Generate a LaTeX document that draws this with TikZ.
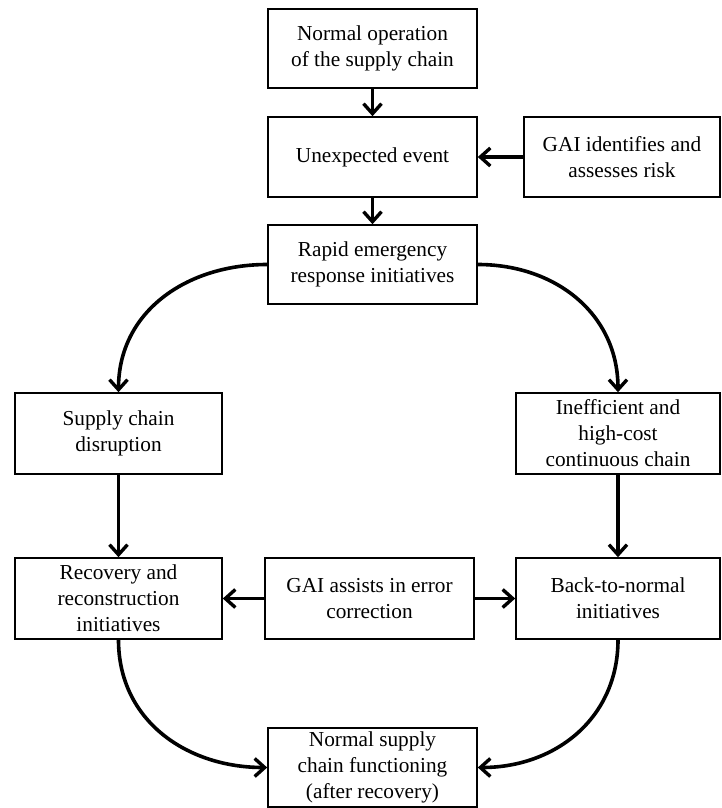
\documentclass[tikz,border=0pt]{standalone}
\usepackage{fontspec}
\setmainfont{Liberation Serif}
\usetikzlibrary{arrows.meta}
\begin{document}
\begin{tikzpicture}[x=1pt,y=-1pt,
  stagebox/.style={draw, line width=1.6pt, inner sep=0pt, align=center,
    font=\fontsize{21.3}{26}\selectfont},
  flow/.style={line width=3.6pt, -{Straight Barb[length=10pt,width=18pt,line width=3.4pt]}}]
\useasboundingbox (0,0) rectangle (721,808);
% top column
\node[stagebox, minimum width=209, minimum height=79] (normal) at (372.5,48.5) {Normal operation\\of the supply chain};
\node[stagebox, minimum width=209, minimum height=80] (event) at (372.5,157) {Unexpected event};
\node[stagebox, minimum width=196, minimum height=80] (gairisk) at (622,157) {GAI identifies and\\assesses risk};
\node[stagebox, minimum width=209, minimum height=79] (rapid) at (372.5,264.5) {Rapid emergency\\response initiatives};
% two branches
\node[stagebox, minimum width=207, minimum height=81] (disrupt) at (118.5,433.5) {Supply chain\\disruption};
\node[stagebox, minimum width=204, minimum height=81] (ineff) at (618,433.5) {Inefficient and\\high-cost\\continuous chain};
\node[stagebox, minimum width=207, minimum height=81] (recov) at (118.5,598.5) {Recovery and\\reconstruction\\initiatives};
\node[stagebox, minimum width=209, minimum height=81] (gaierr) at (369.5,598.5) {GAI assists in error\\correction};
\node[stagebox, minimum width=204, minimum height=81] (back) at (618,598.5) {Back-to-normal\\initiatives};
\node[stagebox, minimum width=209, minimum height=79] (after) at (372.5,767.5) {Normal supply\\chain functioning\\(after recovery)};
% connectors
\draw[flow] (normal) -- (event);
\draw[flow] (gairisk) -- (event);
\draw[flow] (event) -- (rapid);
\draw[flow] (rapid.west) to[out=180,in=90,looseness=1.05] (disrupt.north);
\draw[flow] (rapid.east) to[out=0,in=90,looseness=1.05] (ineff.north);
\draw[flow] (disrupt) -- (recov);
\draw[flow] (ineff) -- (back);
\draw[flow] (gaierr) -- (recov);
\draw[flow] (gaierr) -- (back);
\draw[flow] (recov.south) to[out=-90,in=180,looseness=1.05] (after.west);
\draw[flow] (back.south) to[out=-90,in=0,looseness=1.05] (after.east);
\end{tikzpicture}
\end{document}
